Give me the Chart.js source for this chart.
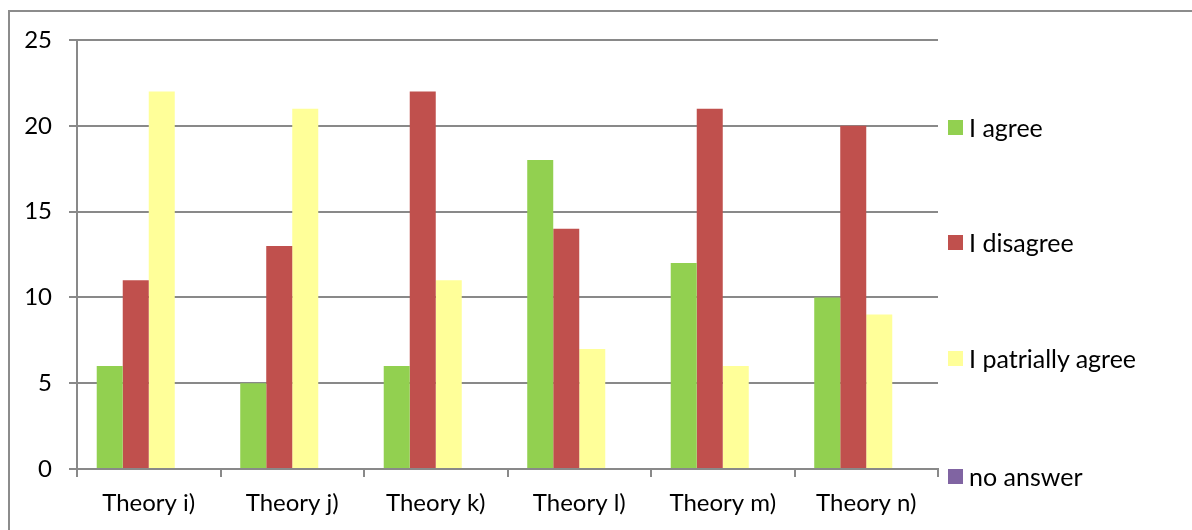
<!DOCTYPE html>
<html>
<head>
<meta charset="utf-8">
<script src="https://cdn.jsdelivr.net/npm/chart.js@4/dist/chart.umd.min.js"></script>
<style>
  html, body { margin: 0; padding: 0; background: #fff; overflow: hidden; }
  #wrap { position: relative; width: 1192px; height: 530px; }
  #frame { position: absolute; left: 8px; top: 10px; width: 1300px; height: 600px; border-left: 2px solid #8c8c8c; border-top: 2px solid #8c8c8c; box-sizing: border-box; pointer-events: none; }
  canvas { position: absolute; left: 0; top: 0; }
  .lg { position: absolute; left: 948px; font-family: Lato, sans-serif; font-size: 25px; color: #000; white-space: nowrap; display: flex; align-items: center; }
  .lg span.box { display: inline-block; width: 15px; height: 15px; margin-right: 6px; }
</style>
</head>
<body>
<div id="wrap">
  <canvas id="c" width="1192" height="530"></canvas>
  <div id="frame"></div>
  <div id="legend"></div>
</div>
<script>
const categories = ["Theory i)", "Theory j)", "Theory k)", "Theory l)", "Theory m)", "Theory n)"];
const seriesNames = ["I agree", "I disagree", "I patrially agree", "no answer"];
const agree = [6, 5, 6, 18, 12, 10];
const disagree = [11, 13, 22, 14, 21, 20];
const partially = [22, 21, 11, 7, 6, 9];
const noAnswer = [0, 0, 0, 0, 0, 0];
const yTicks = [0, 5, 10, 15, 20, 25];

const colors = ["#92D050", "#C0504D", "#FFFF99", "#8064A2"];
const values = [agree, disagree, partially, noAnswer];

const FONT = { family: "Lato, sans-serif", size: 24 };
const gridColor = "#898989";

const ctx = document.getElementById("c");
new Chart(ctx, {
  type: "bar",
  data: {
    labels: categories,
    datasets: seriesNames.map((n, i) => ({
      label: n,
      data: values[i],
      backgroundColor: colors[i],
      borderWidth: 0,
      barPercentage: 1,
      categoryPercentage: 0.725
    }))
  },
  options: {
    responsive: false,
    animation: false,
    devicePixelRatio: 1,
    layout: { padding: { left: 0, top: 40, right: 254, bottom: 0 } },
    plugins: { legend: { display: false }, tooltip: { enabled: false } },
    scales: {
      x: {
        grid: { offset: true, drawOnChartArea: false, drawTicks: true, tickLength: 8, color: gridColor, lineWidth: 2 },
        border: { display: true, color: gridColor, width: 2 },
        ticks: { font: FONT, color: "#000", padding: 12, maxRotation: 0 },
        afterFit: s => { s.height = 61; }
      },
      y: {
        min: 0, max: 25,
        afterBuildTicks: s => { s.ticks = yTicks.map(v => ({ value: v })); },
        grid: { color: gridColor, lineWidth: 2, tickLength: 8, drawTicks: true },
        border: { display: true, color: gridColor, width: 2 },
        ticks: { font: FONT, color: "#000", padding: 17 },
        afterFit: s => { s.width = 77; }
      }
    }
  }
});

const legend = document.getElementById("legend");
const legendY = [127, 242, 358, 476];
seriesNames.forEach((n, i) => {
  const d = document.createElement("div");
  d.className = "lg";
  d.style.top = (legendY[i] - 15) + "px";
  d.style.height = "30px";
  const b = document.createElement("span");
  b.className = "box";
  b.style.background = colors[i];
  d.appendChild(b);
  d.appendChild(document.createTextNode(n));
  legend.appendChild(d);
});
</script>
</body>
</html>
